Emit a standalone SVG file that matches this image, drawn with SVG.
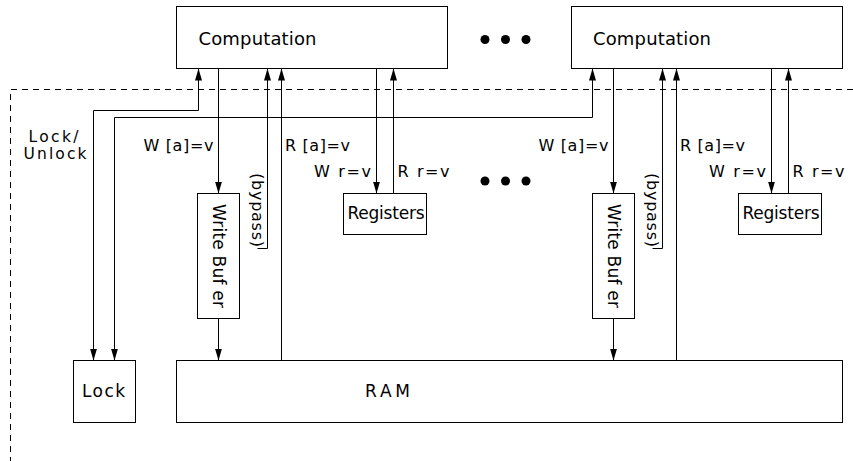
<svg xmlns="http://www.w3.org/2000/svg" width="853" height="461" viewBox="0 0 853 461">
<defs>
<style>
.box{fill:#fff;stroke:#000;stroke-width:1}
.ln{fill:none;stroke:#000;stroke-width:1}
.ar{marker-end:url(#ah)}
.ar2{marker-start:url(#ah);marker-end:url(#ah)}
.dash{fill:none;stroke:#000;stroke-width:1;stroke-dasharray:6,5}
text{font-family:"DejaVu Sans","Liberation Sans",sans-serif;fill:#000}
.big{font-size:18px}
.mid{font-size:17px}
.lbl{font-size:16px}
.sm{font-size:15.5px}
.dot{fill:#000}
</style>
<marker id="ah" markerUnits="userSpaceOnUse" markerWidth="12" markerHeight="7" refX="12" refY="3.5" orient="auto-start-reverse" viewBox="0 0 12 7">
<path d="M0,0 L12,3.5 L0,7 z" fill="#000"/>
</marker>
</defs>
<rect width="853" height="461" fill="#fff"/>

<g id="boundary">
<path class="dash" d="M853,89.5 H10.5 V461"/>
</g>

<g id="connectors">
<path class="ln ar2" d="M93.5,360.5 V110.5 H198.5 V68.5"/>
<path class="ln ar2" d="M114.5,360.5 V117.5 H592.5 V68.5"/>
<path class="ln ar" d="M218.5,68.5 V193.5"/>
<path class="ln ar" d="M218.5,318.5 V360.5"/>
<path class="ln ar" d="M257.5,248.5 H267.5 V68.5"/>
<path class="ln ar" d="M281.5,360.5 V68.5"/>
<path class="ln ar" d="M376.5,68.5 V193.5"/>
<path class="ln ar" d="M393.5,193.5 V68.5"/>
<path class="ln ar" d="M613.5,68.5 V193.5"/>
<path class="ln ar" d="M613.5,318.5 V360.5"/>
<path class="ln ar" d="M652.5,248.5 H662.5 V68.5"/>
<path class="ln ar" d="M676.5,360.5 V68.5"/>
<path class="ln ar" d="M771.5,68.5 V193.5"/>
<path class="ln ar" d="M788.5,193.5 V68.5"/>
</g>

<g id="computation1">
<rect class="box" x="176.5" y="6.5" width="271" height="62"/>
<text class="big" x="198.5" y="45" textLength="118" lengthAdjust="spacing">Computation</text>
</g>
<g id="computation2">
<rect class="box" x="571.5" y="6.5" width="271" height="62"/>
<text class="big" x="593" y="45" textLength="118" lengthAdjust="spacing">Computation</text>
</g>

<g id="dots-top">
<circle class="dot" cx="485" cy="39.5" r="4.5"/>
<circle class="dot" cx="505.5" cy="39.5" r="4.5"/>
<circle class="dot" cx="526" cy="39.5" r="4.5"/>
</g>
<g id="dots-mid">
<circle class="dot" cx="485" cy="181" r="4.5"/>
<circle class="dot" cx="505.5" cy="181" r="4.5"/>
<circle class="dot" cx="526" cy="181" r="4.5"/>
</g>

<g id="writebuffer1">
<rect class="box" x="197.5" y="193.5" width="42" height="125"/>
<text class="mid" transform="translate(218.5,256) rotate(90)" x="0" y="6" text-anchor="middle" textLength="104" lengthAdjust="spacing">Write Buf er</text>
</g>
<g id="writebuffer2">
<rect class="box" x="592.5" y="193.5" width="42" height="125"/>
<text class="mid" transform="translate(613.5,256) rotate(90)" x="0" y="6" text-anchor="middle" textLength="104" lengthAdjust="spacing">Write Buf er</text>
</g>

<g id="registers1">
<rect class="box" x="343.5" y="193.5" width="83" height="41"/>
<text class="mid" x="347.5" y="219" textLength="77" lengthAdjust="spacing">Registers</text>
</g>
<g id="registers2">
<rect class="box" x="738.5" y="193.5" width="83" height="41"/>
<text class="mid" x="742.5" y="219" textLength="77" lengthAdjust="spacing">Registers</text>
</g>

<g id="lock">
<rect class="box" x="73.5" y="360.5" width="62" height="62"/>
<text class="mid" x="82" y="397" textLength="43" lengthAdjust="spacing">Lock</text>
</g>
<g id="ram">
<rect class="box" x="176.5" y="360.5" width="666" height="62"/>
<text class="mid" x="365" y="397" textLength="45" lengthAdjust="spacing">RAM</text>
</g>

<g id="labels">
<text class="sm" x="28.5" y="142" textLength="50" lengthAdjust="spacing">Lock/</text>
<text class="sm" x="23.5" y="159" textLength="63" lengthAdjust="spacing">Unlock</text>
<text class="lbl" x="143.5" y="151" textLength="70" lengthAdjust="spacing">W [a]=v</text>
<text class="lbl" x="285" y="151" textLength="65" lengthAdjust="spacing">R [a]=v</text>
<text class="lbl" x="314" y="177" textLength="57" lengthAdjust="spacing">W r=v</text>
<text class="lbl" x="397.5" y="177" textLength="52" lengthAdjust="spacing">R r=v</text>
<text class="lbl" transform="translate(256.7,210) rotate(90)" x="0" y="5" text-anchor="middle" textLength="74" lengthAdjust="spacing">(bypass)</text>
<text class="lbl" x="538.5" y="151" textLength="70" lengthAdjust="spacing">W [a]=v</text>
<text class="lbl" x="680" y="151" textLength="65" lengthAdjust="spacing">R [a]=v</text>
<text class="lbl" x="709" y="177" textLength="57" lengthAdjust="spacing">W r=v</text>
<text class="lbl" x="792.5" y="177" textLength="52" lengthAdjust="spacing">R r=v</text>
<text class="lbl" transform="translate(651.7,210) rotate(90)" x="0" y="5" text-anchor="middle" textLength="74" lengthAdjust="spacing">(bypass)</text>
</g>
</svg>
